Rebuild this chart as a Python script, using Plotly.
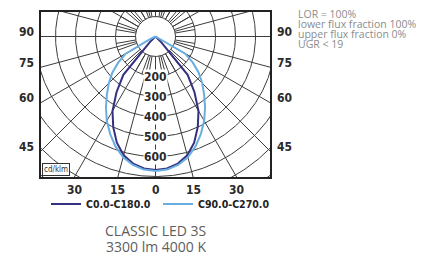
import numpy as np
import plotly.graph_objects as go

# ---- data (cd/klm) ----
gamma = [0, 5, 10, 15, 20, 25, 30, 35, 40, 45, 50, 55, 60, 65, 70, 75, 80, 85, 90]
c0    = [668, 662, 645, 615, 565, 500, 430, 340, 250, 40, 0, 0, 0, 0, 0, 0, 0, 0, 0]
c180  = [668, 662, 645, 615, 565, 500, 430, 340, 250, 40, 0, 0, 0, 0, 0, 0, 0, 0, 0]
c90   = [672, 668, 652, 625, 585, 537, 487, 432, 378, 330, 282, 228, 172, 30, 0, 0, 0, 0, 0]
c270  = [672, 668, 652, 625, 585, 537, 487, 432, 378, 330, 282, 228, 172, 30, 0, 0, 0, 0, 0]
series_names = ["C0.0-C180.0", "C90.0-C270.0"]
series_colors = ["#35307f", "#6aaee0"]
ring_values = [100, 200, 300, 400, 500, 600, 700, 800, 900]
ring_labels = [200, 300, 400, 500, 600]
side_angles = [90, 75, 60, 45]
bottom_angles = [30, 15, 0, 15, 30]
bottom_signs = [-1, -1, 0, 1, 1]
info_lines = ["LOR = 100%", "lower flux fraction 100%", "upper flux fraction 0%", "UGR < 19"]
title_lines = ["CLASSIC LED 3S", "3300 lm 4000 K"]
unit_label = "cd/klm"

XR = 572.5
YB = -702.5
YT = 122.5

def half_curve(g, right, left):
    g = np.radians(np.array(g, dtype=float))
    r_right = np.array(right, dtype=float)
    r_left = np.array(left, dtype=float)
    xl = -r_left * np.sin(g)
    yl = -r_left * np.cos(g)
    xr = r_right * np.sin(g)
    yr = -r_right * np.cos(g)
    x = np.concatenate([xl[::-1], xr])
    y = np.concatenate([yl[::-1], yr])
    return x, y

fig = go.Figure()

# grid: circles
gx, gy = [], []
t = np.linspace(0, 2 * np.pi, 721)
for r in ring_values:
    gx += list(r * np.cos(t)) + [None]
    gy += list(r * np.sin(t)) + [None]
# radial lines every 15 deg from 100 outward
for a in np.arange(0, 360, 15):
    ar = np.radians(a)
    gx += [100 * np.sin(ar), 1100 * np.sin(ar), None]
    gy += [-100 * np.cos(ar), -1100 * np.cos(ar), None]
# inner ring every 10 deg from 100 to 200
for a in np.arange(0, 360, 10):
    ar = np.radians(a)
    gx += [100 * np.sin(ar), 200 * np.sin(ar), None]
    gy += [-100 * np.cos(ar), -200 * np.cos(ar), None]
fig.add_trace(go.Scatter(x=gx, y=gy, mode="lines", line=dict(color="#3c3c3c", width=1),
                         hoverinfo="skip", showlegend=False))

x1, y1 = half_curve(gamma, c0, c180)
x2, y2 = half_curve(gamma, c90, c270)
fig.add_trace(go.Scatter(x=x1, y=y1, mode="lines", name=series_names[0],
                         line=dict(color=series_colors[0], width=2)))
fig.add_trace(go.Scatter(x=x2, y=y2, mode="lines", name=series_names[1],
                         line=dict(color=series_colors[1], width=2)))

lab_font = dict(family="Liberation Sans Narrow, DejaVu Sans Condensed, Arial Narrow, sans-serif",
                size=12, color="#2a2a2a", weight="bold")
ann = []
for a in side_angles:
    ar = np.radians(a)
    yy = -XR * np.cos(ar) / np.sin(ar)
    ann.append(dict(x=-XR, y=yy, xref="x", yref="y", text=str(a), showarrow=False,
                    xanchor="right", yanchor="middle", xshift=-5, yshift=4.5, font=lab_font))
    ann.append(dict(x=XR, y=yy, xref="x", yref="y", text=str(a), showarrow=False,
                    xanchor="left", yanchor="middle", xshift=5, yshift=4.5, font=lab_font))
for a, s in zip(bottom_angles, bottom_signs):
    xx = s * (-YB) * np.tan(np.radians(a))
    ann.append(dict(x=xx, y=YB, xref="x", yref="y", text=str(a), showarrow=False,
                    xanchor="center", yanchor="top", yshift=-4, font=lab_font))
for r in ring_labels:
    ann.append(dict(x=0, y=-r, xref="x", yref="y", text=str(r), showarrow=False,
                    xanchor="center", yanchor="middle", bgcolor="white", borderpad=0,
                    font=lab_font))
ann.append(dict(x=-XR, y=YB, xref="x", yref="y", text=unit_label, showarrow=False,
                xanchor="left", yanchor="bottom", bgcolor="white", bordercolor="#333",
                borderwidth=1, borderpad=1, xshift=1, yshift=1,
                font=dict(family="DejaVu Sans Condensed, sans-serif", size=8, color="#333")))
info_font = dict(family="Open Sans, sans-serif", size=10.5, color="#8c8c8c")
for i, line in enumerate(info_lines):
    ann.append(dict(x=297, y=14.5 + i * 9.8, xref="paper", yref="paper", text=line,
                    showarrow=False, xanchor="left", yanchor="middle", borderpad=0,
                    font=info_font))
title_font = dict(family="Open Sans, sans-serif", size=14, color="#5e5e5e")
for i, line in enumerate(title_lines):
    ann.append(dict(x=155.5, y=231 + i * 15.5, xref="paper", yref="paper", text=line,
                    showarrow=False, xanchor="center", yanchor="middle", borderpad=0,
                    font=title_font))

# page pixel layout (the page body adds an 8 px offset)
OFF = 8
W, H = 435 - OFF, 255 - OFF
L = 41 - OFF
T = 12 - OFF
R = W - (270 - OFF)
B = H - (177 - OFF)
pw, ph = W - L - R, H - T - B
for a in ann:
    if a["xref"] == "paper":
        a["x"] = (a["x"] - OFF - L) / pw
        a["y"] = (H - B - (a["y"] - OFF)) / ph

fig.update_layout(
    width=W, height=H, margin=dict(l=L, r=R, t=T, b=B, pad=0, autoexpand=False),
    paper_bgcolor="white", plot_bgcolor="white",
    xaxis=dict(range=[-XR, XR], showgrid=False, zeroline=False, showticklabels=False,
               ticks="", showline=True, mirror=True, linecolor="#222", linewidth=1.5,
               fixedrange=True),
    yaxis=dict(range=[YB, YT], showgrid=False, zeroline=False, showticklabels=False,
               ticks="", showline=True, mirror=True, linecolor="#222", linewidth=1.5,
               fixedrange=True),
    annotations=ann,
    showlegend=True,
    legend=dict(orientation="h", x=(38 - L) / pw, y=(H - B - (204 - OFF)) / ph,
                xanchor="left", yanchor="middle", entrywidth=67, entrywidthmode="pixels",
                bgcolor="rgba(0,0,0,0)", borderwidth=0, itemclick=False,
                font=dict(family="Liberation Sans Narrow, DejaVu Sans Condensed, sans-serif",
                          size=10.5, color="#222", weight="bold")),
)

fig.write_html("out.html")
